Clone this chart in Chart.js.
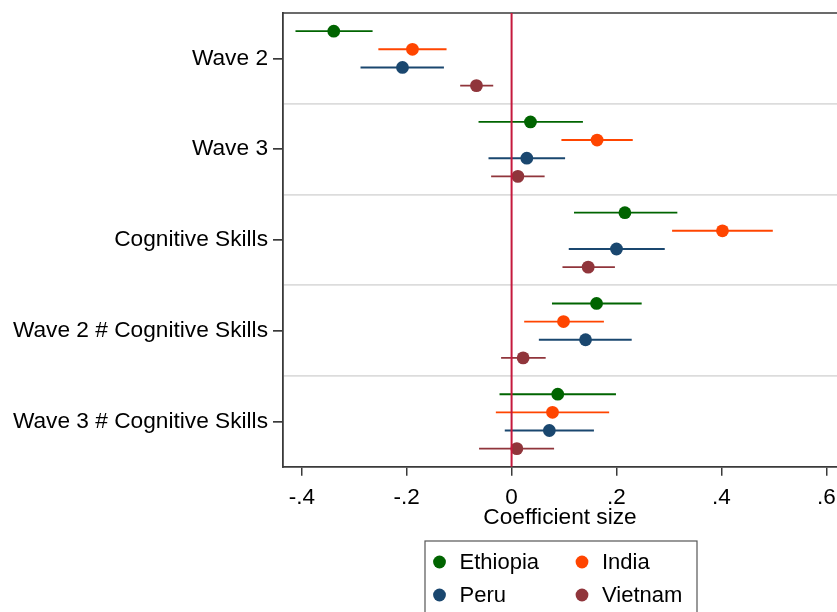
<!DOCTYPE html>
<html>
<head>
<meta charset="utf-8">
<script src="https://cdn.jsdelivr.net/npm/chart.js@4.4.1/dist/chart.umd.min.js"></script>
<style>
  html, body { margin: 0; padding: 0; background: #fff; }
  #wrap { width: 837px; height: 612px; position: relative; }
</style>
</head>
<body>
<div id="wrap"><canvas id="c"></canvas></div>
<script>
// Regression terms, top to bottom
const categories = ['Wave 2', 'Wave 3', 'Cognitive Skills', 'Wave 2 # Cognitive Skills', 'Wave 3 # Cognitive Skills'];

// Point estimates and 95% confidence bounds by country
const ethiopia   = [-0.339, 0.036, 0.216, 0.162, 0.088];
const ethiopiaLo = [-0.412, -0.063, 0.119, 0.077, -0.023];
const ethiopiaHi = [-0.265, 0.136, 0.316, 0.248, 0.199];

const india   = [-0.189, 0.163, 0.402, 0.099, 0.078];
const indiaLo = [-0.254, 0.095, 0.306, 0.024, -0.030];
const indiaHi = [-0.124, 0.231, 0.498, 0.176, 0.186];

const peru   = [-0.208, 0.029, 0.200, 0.141, 0.072];
const peruLo = [-0.288, -0.044, 0.109, 0.052, -0.013];
const peruHi = [-0.129, 0.102, 0.292, 0.229, 0.157];

const vietnam   = [-0.067, 0.012, 0.146, 0.022, 0.010];
const vietnamLo = [-0.098, -0.039, 0.097, -0.020, -0.062];
const vietnamHi = [-0.035, 0.063, 0.197, 0.065, 0.081];

// x-axis tick values and their labels
const xTickValues = [-0.4, -0.2, 0, 0.2, 0.4, 0.6];
const xTickLabels = ['-.4', '-.2', '0', '.2', '.4', '.6'];

const FONT = '"Liberation Sans", Arial, Helvetica, sans-serif';
const AXIS = '#3a3a3a';

function series(label, est, lo, hi, color, shift) {
  return {
    label: label,
    data: est.map((v, i) => ({ x: v, y: i + 1 + shift, lo: lo[i], hi: hi[i] })),
    backgroundColor: color,
    borderColor: color,
    pointRadius: 6.4,
    pointBorderWidth: 0,
    pointHoverRadius: 6.4,
    showLine: false,
    clip: false
  };
}

const datasets = [
  series('Ethiopia', ethiopia, ethiopiaLo, ethiopiaHi, '#006400', -0.3),
  series('India',    india,    indiaLo,    indiaHi,    '#ff4500', -0.1),
  series('Peru',     peru,     peruLo,     peruHi,     '#1a476f',  0.1),
  series('Vietnam',  vietnam,  vietnamLo,  vietnamHi,  '#90353b',  0.3)
];

// Horizontal confidence-interval whiskers behind the markers
const whiskers = {
  id: 'whiskers',
  beforeDatasetsDraw(chart) {
    const { ctx, scales: { x, y } } = chart;
    ctx.save();
    ctx.lineWidth = 1.9;
    chart.data.datasets.forEach(ds => {
      ctx.strokeStyle = ds.borderColor;
      ds.data.forEach(p => {
        const py = y.getPixelForValue(p.y);
        ctx.beginPath();
        ctx.moveTo(x.getPixelForValue(p.lo), py);
        ctx.lineTo(x.getPixelForValue(p.hi), py);
        ctx.stroke();
      });
    });
    ctx.restore();
  }
};

// Reference line at zero, plus the frame's top edge
const frame = {
  id: 'frame',
  beforeDatasetsDraw(chart) {
    const { ctx, chartArea: a } = chart;
    ctx.save();
    ctx.strokeStyle = AXIS;
    ctx.lineWidth = 1.5;
    ctx.beginPath();
    ctx.moveTo(a.left - 1, a.top);
    ctx.lineTo(a.right, a.top);
    ctx.stroke();
    ctx.restore();
  },
  afterDatasetsDraw(chart) {
    const { ctx, chartArea: a, scales: { x } } = chart;
    const px = x.getPixelForValue(0);
    ctx.save();
    ctx.strokeStyle = '#c5193d';
    ctx.lineWidth = 2;
    ctx.beginPath();
    ctx.moveTo(px, a.top);
    ctx.lineTo(px, a.bottom);
    ctx.stroke();
    ctx.restore();
  }
};

// Boxed two-column legend under the axis title
const boxLegend = {
  id: 'boxLegend',
  afterDraw(chart) {
    const { ctx } = chart;
    const left = 425, top = 541, right = 697;
    const colX = [439.5, 582];
    const rowY = [562, 595];
    ctx.save();
    ctx.strokeStyle = '#555';
    ctx.lineWidth = 1.2;
    ctx.strokeRect(left, top, right - left, 90);
    ctx.font = '22px ' + FONT;
    ctx.textBaseline = 'middle';
    ctx.textAlign = 'left';
    chart.data.datasets.forEach((ds, i) => {
      const cx = colX[i % 2], cy = rowY[Math.floor(i / 2)];
      ctx.fillStyle = ds.backgroundColor;
      ctx.beginPath();
      ctx.arc(cx, cy, 6.4, 0, Math.PI * 2);
      ctx.fill();
      ctx.fillStyle = '#000';
      ctx.fillText(ds.label, cx + 20, cy + 1);
    });
    ctx.restore();
  }
};

new Chart(document.getElementById('c'), {
  type: 'scatter',
  data: { datasets: datasets },
  plugins: [whiskers, frame, boxLegend],
  options: {
    responsive: true,
    maintainAspectRatio: false,
    animation: false,
    layout: { autoPadding: false, padding: { left: 0, right: 0, top: 13, bottom: 83 } },
    plugins: { legend: { display: false }, tooltip: { enabled: false } },
    scales: {
      x: {
        type: 'linear',
        min: -0.4358,
        max: 0.6204,
        afterBuildTicks(s) { s.ticks = xTickValues.map(v => ({ value: v })); },
        afterFit(s) { s.paddingLeft = 0; s.paddingRight = 0; },
        ticks: {
          color: '#000',
          padding: 11,
          maxRotation: 0,
          autoSkip: false,
          font: { family: FONT, size: 22.5, lineHeight: 1.0 },
          callback(v) { const i = xTickValues.indexOf(v); return i >= 0 ? xTickLabels[i] : ''; }
        },
        grid: { drawOnChartArea: false, drawTicks: true, tickLength: 9, tickColor: AXIS, lineWidth: 1.5 },
        border: { display: true, color: AXIS, width: 1.8 },
        title: {
          display: true,
          text: 'Coefficient size',
          color: '#000',
          padding: { top: -14, bottom: 0 },
          font: { family: FONT, size: 22.7, lineHeight: 1.0 }
        }
      },
      y: {
        type: 'linear',
        reverse: true,
        min: 0.5,
        max: 5.5,
        afterBuildTicks(s) {
          const t = [];
          for (let i = 1; i <= categories.length; i++) {
            t.push({ value: i });
            if (i < categories.length) t.push({ value: i + 0.5 });
          }
          s.ticks = t;
        },
        afterFit(s) { s.width = 283; s.paddingTop = 0; s.paddingBottom = 0; },
        ticks: {
          color: '#000',
          padding: 5,
          autoSkip: false,
          font: { family: FONT, size: 22.7 },
          callback(v) { return Number.isInteger(v) ? categories[v - 1] : ''; }
        },
        grid: {
          drawOnChartArea: true,
          tickLength: 10,
          lineWidth: 1.7,
          color: c => (c.tick && !Number.isInteger(c.tick.value)) ? '#dcdcdc' : 'rgba(0,0,0,0)',
          tickColor: c => (c.tick && Number.isInteger(c.tick.value)) ? AXIS : 'rgba(0,0,0,0)'
        },
        border: { display: true, color: AXIS, width: 1.8 }
      }
    }
  }
});
</script>
</body>
</html>
